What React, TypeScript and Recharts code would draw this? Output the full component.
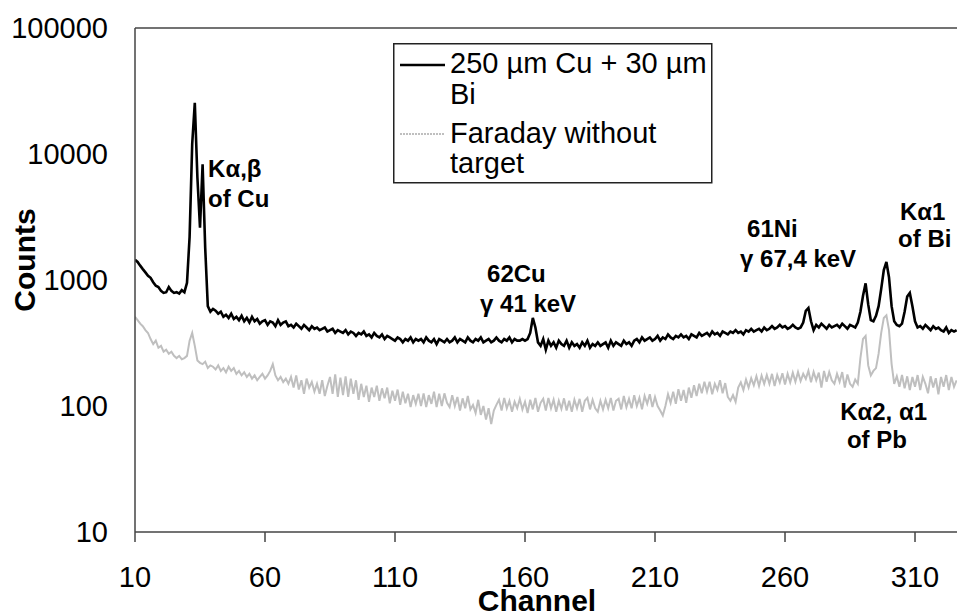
import React from 'react';
import { LineChart, Line, XAxis, YAxis, ReferenceLine, ReferenceDot, Label } from 'recharts';

const FONT = '"Liberation Sans", Arial, sans-serif';

const firstChannel = 10;
const lastChannel = 326;
const channels: number[] = Array.from({ length: lastChannel - firstChannel + 1 }, (_, i) => firstChannel + i);

const cuBiCounts: number[] = [
  1450, 1390, 1300, 1220, 1150, 1080, 1040, 960, 900, 880,
  820, 790, 800, 880, 820, 790, 800, 780, 830, 800,
  950, 2200, 12000, 25500, 6500, 2600, 8300, 1800, 620, 560,
  590, 570, 540, 560, 510, 530, 500, 540, 490, 510,
  480, 520, 470, 500, 460, 510, 470, 490, 450, 470,
  480, 440, 470, 460, 430, 480, 440, 460, 470, 430,
  440, 420, 450, 430, 410, 440, 420, 400, 430, 410,
  420, 400, 410, 420, 390, 400, 410, 380, 400, 390,
  380, 400, 370, 390, 380, 360, 380, 370, 390, 360,
  370, 350, 380, 360, 350, 370, 340, 360, 350, 340,
  330, 350, 340, 320, 340, 330, 350, 320, 340, 330,
  340, 320, 350, 330, 320, 340, 310, 340, 330, 320,
  340, 320, 330, 350, 320, 340, 330, 320, 350, 330,
  320, 340, 330, 350, 320, 330, 340, 320, 330, 350,
  330, 320, 340, 330, 350, 320, 340, 330, 330, 340,
  330, 340, 380, 500, 420, 320, 300, 340, 280, 330,
  300, 320, 290, 330, 310, 300, 330, 290, 320, 300,
  310, 290, 320, 300, 330, 290, 310, 300, 320, 300,
  310, 320, 290, 330, 300, 320, 310, 300, 330, 310,
  320, 300, 330, 340, 320, 350, 330, 340, 350, 330,
  340, 360, 330, 350, 340, 370, 350, 340, 360, 350,
  370, 350, 360, 340, 370, 360, 350, 380, 360, 370,
  380, 360, 390, 370, 380, 360, 390, 380, 370, 390,
  380, 400, 380, 390, 370, 400, 390, 410, 390, 400,
  410, 390, 420, 400, 410, 430, 410, 420, 440, 420,
  430, 410, 420, 440, 420, 410, 420, 460, 570, 600,
  470, 400, 440, 420, 450, 430, 410, 440, 420, 430,
  440, 420, 450, 430, 410, 440, 430, 420, 460, 560,
  750, 940, 640, 480, 470, 520, 620, 850, 1200, 1390,
  1050, 620, 470, 440, 430, 450, 560, 740, 790, 620,
  470, 420, 430, 410, 440, 420, 400, 430, 410, 420,
  400, 390, 420, 380, 400, 390, 400,
];

const faradayCounts: number[] = [
  510, 480, 450, 430, 400, 380, 340, 310, 330, 290,
  300, 270, 280, 260, 270, 250, 240, 250, 235, 240,
  250, 330, 380, 300, 230, 220, 215, 225, 200, 210,
  205, 195, 210, 190, 200, 185, 205, 190, 200, 180,
  190, 175, 185, 170, 180, 165, 175, 160, 170, 180,
  165, 175, 190, 215, 175, 160, 170, 155, 165, 150,
  170, 140, 175, 135, 160, 125, 165, 140, 155, 130,
  150, 125, 160, 120, 145, 170, 125, 178, 118, 168,
  122, 172, 118, 165, 125, 160, 112, 150, 118, 145,
  108, 140, 118, 145, 110, 138, 115, 140, 105, 132,
  110, 135, 102, 130, 105, 125, 98, 122, 104, 125,
  100, 126, 98, 122, 104, 130, 98, 125, 100, 126,
  106, 98, 122, 100, 118, 92, 115, 96, 120, 94,
  102, 88, 112, 85, 100, 78, 96, 72, 92, 102,
  112, 92, 116, 96, 110, 90, 108, 96, 114, 94,
  108, 88, 112, 94, 116, 90, 106, 114, 92, 116,
  96, 112, 90, 110, 95, 115, 92, 110, 90, 112,
  96, 114, 90, 110, 116, 94, 112, 96, 90, 110,
  94, 112, 96, 116, 92, 110, 114, 94, 120, 98,
  114, 96, 122, 100, 116, 94, 120, 104, 124, 98,
  118, 100, 92, 84, 100, 124, 106, 130, 104, 136,
  110, 134, 106, 140, 116, 146, 120, 150, 126, 156,
  130, 156, 124, 150, 134, 160, 126, 152, 118, 110,
  122, 108, 140, 154, 134, 162, 140, 166, 146, 172,
  144, 174, 150, 176, 150, 180, 144, 176, 154, 182,
  148, 180, 154, 184, 156, 186, 158, 180, 164, 190,
  154, 186, 160, 184, 140, 190, 156, 186, 160, 150,
  180, 156, 186, 140, 178, 150, 142, 162, 150, 240,
  340, 360, 210, 175, 190, 200, 260, 380, 500, 525,
  400, 215, 150, 172, 142, 176, 138, 172, 134, 170,
  142, 176, 134, 170, 150, 126, 172, 140, 166, 124,
  170, 142, 176, 134, 170, 142, 160,
];

const xTicks = [10, 60, 110, 160, 210, 260, 310];
const yTicks = [10, 100, 1000, 10000, 100000];

const seriesNames = ['250 µm Cu + 30 µm', 'Faraday without'];

const annotationChannels = [38.1, 38.1, 145.4, 142.7, 245.4, 242.7, 304.2, 303.5, 281.2, 283.8];
const annotationCounts = [6560, 3790, 964, 557, 2193, 1268, 2992, 1829, 77.4, 46.4];
const annotationTexts = ['Kα,β', 'of Cu', '62Cu', 'γ 41 keV', '61Ni', 'γ 67,4 keV', 'Kα1', 'of Bi', 'Kα2, α1', 'of Pb'];

const data = channels.map((ch, i) => ({
  channel: ch,
  cuBi: cuBiCounts[i],
  faraday: faradayCounts[i],
}));

const annotations = annotationTexts.map((t, i) => ({
  x: annotationChannels[i],
  y: annotationCounts[i],
  text: t,
}));

const W = 957;
const H = 613;

export default function App() {
  return (
    <div style={{ position: 'absolute', left: 0, top: 0, width: W, height: H, background: '#fff' }}>
      <LineChart
        width={W}
        height={H}
        data={data}
        margin={{ top: 28, right: 0, bottom: 0, left: 0 }}
      >
        <XAxis
          dataKey="channel"
          type="number"
          domain={[10, 326.15]}
          ticks={xTicks}
          interval={0}
          allowDataOverflow
          height={81}
          tickSize={10}
          tickMargin={24}
          stroke="#444"
          strokeWidth={1.5}
          tick={{ fill: '#000', fontSize: 29, fontFamily: FONT }}
        >
          <Label
            content={(props: any) => {
              const vb = props.viewBox || { x: 135, y: 532, width: 822, height: 81 };
              return (
                <text
                  x={vb.x + vb.width / 2 - 9}
                  y={vb.y + 79}
                  textAnchor="middle"
                  fontFamily={FONT}
                  fontWeight="bold"
                  fontSize={30}
                  fill="#000"
                >
                  Channel
                </text>
              );
            }}
          />
        </XAxis>
        <YAxis
          scale="log"
          domain={[10, 100000]}
          ticks={yTicks}
          interval={0}
          allowDataOverflow
          width={135}
          tickLine={false}
          tickSize={0}
          tickMargin={27}
          stroke="#444"
          strokeWidth={1.5}
          tick={{ fill: '#000', fontSize: 29, fontFamily: FONT }}
        >
          <Label
            content={(props: any) => {
              const vb = props.viewBox || { x: 0, y: 28, width: 135, height: 504 };
              const cx = 35;
              const cy = vb.y + vb.height / 2 - 20;
              return (
                <text
                  x={cx}
                  y={cy}
                  transform={`rotate(-90, ${cx}, ${cy})`}
                  textAnchor="middle"
                  fontFamily={FONT}
                  fontWeight="bold"
                  fontSize={30}
                  fill="#000"
                >
                  Counts
                </text>
              );
            }}
          />
        </YAxis>
        <ReferenceLine y={100000} stroke="#444" strokeWidth={1.5} />
        <Line
          type="linear"
          dataKey="faraday"
          name={seriesNames[1]}
          stroke="#bfbfbf"
          strokeWidth={2}
          dot={false}
          isAnimationActive={false}
        />
        <Line
          type="linear"
          dataKey="cuBi"
          name={seriesNames[0]}
          stroke="#000"
          strokeWidth={2.6}
          dot={false}
          isAnimationActive={false}
        />
        {annotations.map((a, i) => (
          <ReferenceDot
            key={i}
            x={a.x}
            y={a.y}
            r={0}
            fill="none"
            stroke="none"
            label={(p: any) => {
              const vb = p.viewBox || {};
              const cx = vb.cx !== undefined ? vb.cx : vb.x + (vb.width || 0) / 2;
              const cy = vb.cy !== undefined ? vb.cy : vb.y + (vb.height || 0) / 2;
              return (
                <text
                  x={cx}
                  y={cy}
                  textAnchor="start"
                  fontFamily={FONT}
                  fontWeight="bold"
                  fontSize={24}
                  fill="#000"
                >
                  {a.text}
                </text>
              );
            }}
          />
        ))}
      </LineChart>
      <svg
        width={320}
        height={141}
        style={{ position: 'absolute', left: 393, top: 43 }}
      >
        <rect x={0.75} y={0.75} width={318} height={139} fill="#fff" stroke="#222" strokeWidth={1.5} />
        <line x1={7} y1={22} x2={52} y2={22} stroke="#000" strokeWidth={2.6} />
        <line x1={7} y1={91} x2={52} y2={91} stroke="#bfbfbf" strokeWidth={2} strokeDasharray="2 1" />
        <text x={57} y={30} fontFamily={FONT} fontSize={29} fill="#000">{seriesNames[0]}</text>
        <text x={57} y={61} fontFamily={FONT} fontSize={29} fill="#000">Bi</text>
        <text x={57} y={100} fontFamily={FONT} fontSize={29} fill="#000">{seriesNames[1]}</text>
        <text x={57} y={130} fontFamily={FONT} fontSize={29} fill="#000">target</text>
      </svg>
    </div>
  );
}
